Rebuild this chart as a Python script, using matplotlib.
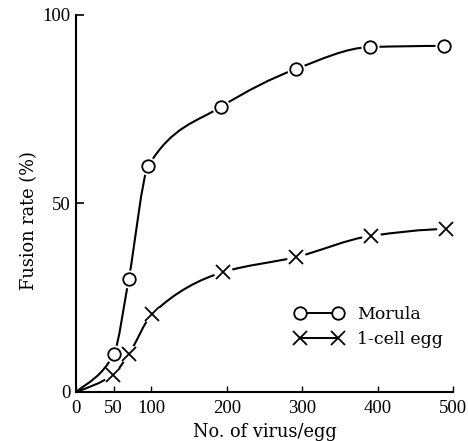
import numpy as np
import matplotlib
matplotlib.use("Agg")
import matplotlib.pyplot as plt
from matplotlib.path import Path
from matplotlib.patches import PathPatch
from matplotlib.lines import Line2D

# ---- data ----
morula_x = [50, 70, 96, 192, 292, 390, 488]
morula_y = [10, 30, 60, 75.6, 85.7, 91.5, 91.8]
one_cell_x = [49, 70, 101, 195, 292, 391, 491]
one_cell_y = [4.6, 10, 20.7, 31.8, 35.8, 41.4, 43.2]
xticks = [0, 50, 100, 200, 300, 400, 500]
yticks = [0, 50, 100]
series_names = ["Morula", "1-cell egg"]


def pchip_bezier(x, y, start_factor=0.8):
    x = np.asarray(x, float)
    y = np.asarray(y, float)
    h = np.diff(x)
    delta = np.diff(y) / h
    n = len(x)
    d = np.zeros(n)
    for k in range(1, n - 1):
        if delta[k - 1] * delta[k] > 0:
            w1 = 2 * h[k] + h[k - 1]
            w2 = h[k] + 2 * h[k - 1]
            d[k] = (w1 + w2) / (w1 / delta[k - 1] + w2 / delta[k])
    d[0] = start_factor * delta[0]
    dn = ((2 * h[-1] + h[-2]) * delta[-1] - h[-1] * delta[-2]) / (h[-1] + h[-2])
    d[-1] = dn if dn * delta[-1] > 0 else 0
    verts = [(x[0], y[0])]
    codes = [Path.MOVETO]
    for k in range(n - 1):
        verts += [(x[k] + h[k] / 3, y[k] + d[k] * h[k] / 3),
                  (x[k + 1] - h[k] / 3, y[k + 1] - d[k + 1] * h[k] / 3),
                  (x[k + 1], y[k + 1])]
        codes += [Path.CURVE4] * 3
    return Path(verts, codes)


W, H = 468, 441
fig = plt.figure(figsize=(W / 100, H / 100), dpi=100)
ax = fig.add_axes([76 / W, 1 - 392 / H, (453 - 76) / W, (392 - 15) / H])
ax.set_xlim(0, 500)
ax.set_ylim(0, 100)

tick_font = dict(family="Liberation Serif", size=13.5)
lab_font = dict(family="DejaVu Serif", size=12.8)

lw = 1.5
for xs, ys, mk, ms in [(morula_x, morula_y, "o", 9),
                       (one_cell_x, one_cell_y, "x", 9.5)]:
    path = pchip_bezier([0] + xs, [0] + ys)
    ax.add_patch(PathPatch(path, facecolor="none", edgecolor="black",
                           lw=lw, clip_on=False, zorder=2))
    # white halo to create small gaps around markers
    ax.plot(xs, ys, linestyle="none", marker="o", ms=ms + 3,
            mfc="white", mec="white", zorder=3, clip_on=False)
    ax.plot(xs, ys, linestyle="none", marker=mk, ms=ms,
            mfc="white", mec="black", mew=1.3, zorder=4, clip_on=False)

for s in ["top", "right"]:
    ax.spines[s].set_visible(False)
for s in ["left", "bottom"]:
    ax.spines[s].set_linewidth(1.5)

ax.set_xticks(xticks)
ax.set_xticklabels([str(t) for t in xticks], **tick_font)
ax.set_yticks(yticks)
ax.set_yticklabels([str(t) for t in yticks], **tick_font)
ax.tick_params(axis="x", direction="in", length=4, width=1, pad=6)
ax.tick_params(axis="y", direction="in", length=6, width=1.2, pad=4)

ax.set_xlabel("No. of virus/egg", **lab_font)
ax.xaxis.set_label_coords(0.50, -0.082)
ax.set_ylabel("Fusion rate (%)", **lab_font)
ax.yaxis.set_label_coords(-0.10, 0.455)

handles = [
    Line2D([], [], color="black", lw=1.4, marker="o", ms=9, mfc="white",
           mec="black", mew=1.3),
    Line2D([], [], color="black", lw=1.4, marker="x", ms=9.5, mec="black",
           mew=1.3),
]
ax.legend(handles, series_names, loc="upper left",
          bbox_to_anchor=(0.581, 0.228), frameon=False, numpoints=2,
          handlelength=2.78, handletextpad=0.8, labelspacing=0.46,
          borderpad=0, borderaxespad=0, prop=dict(family="DejaVu Serif", size=12.5))

fig.savefig("out.png", dpi=100)
